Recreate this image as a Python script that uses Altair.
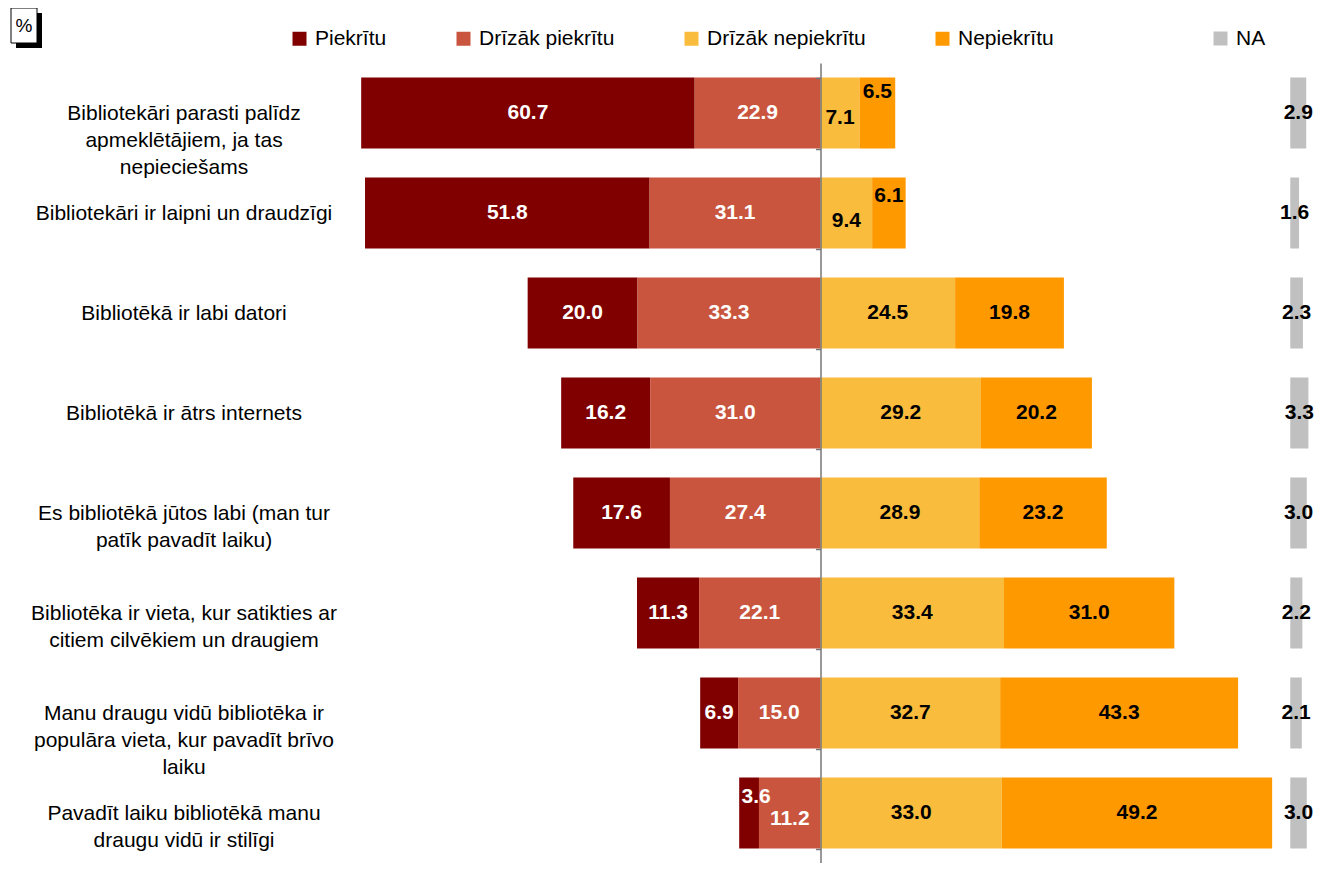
import altair as alt
import pandas as pd

# ---------------- data ----------------
categories = [
    "Bibliotekāri parasti palīdz|apmeklētājiem, ja tas|nepieciešams",
    "Bibliotekāri ir laipni un draudzīgi",
    "Bibliotēkā ir labi datori",
    "Bibliotēkā ir ātrs internets",
    "Es bibliotēkā jūtos labi (man tur|patīk pavadīt laiku)",
    "Bibliotēka ir vieta, kur satikties ar|citiem cilvēkiem un draugiem",
    "Manu draugu vidū bibliotēka ir|populāra vieta, kur pavadīt brīvo|laiku",
    "Pavadīt laiku bibliotēkā manu|draugu vidū ir stilīgi",
]
series_names = ["Piekrītu", "Drīzāk piekrītu", "Drīzāk nepiekrītu", "Nepiekrītu"]
na_name = "NA"

piekritu = [60.7, 51.8, 20.0, 16.2, 17.6, 11.3, 6.9, 3.6]
drizak_piekritu = [22.9, 31.1, 33.3, 31.0, 27.4, 22.1, 15.0, 11.2]
drizak_nepiekritu = [7.1, 9.4, 24.5, 29.2, 28.9, 33.4, 32.7, 33.0]
nepiekritu = [6.5, 6.1, 19.8, 20.2, 23.2, 31.0, 43.3, 49.2]
na_values = [2.9, 1.6, 2.3, 3.3, 3.0, 2.2, 2.1, 3.0]

# ---------------- styling / layout ----------------
colors = ["#800000", "#C9553E", "#F9BC3C", "#FF9900"]
na_color = "#C0C0C0"
FONT = "Liberation Sans"
FS = 21
X_DOMAIN = [-88, 90]
NA_START = 85.5          # where the NA column starts on the x scale
W, H = 978, 800
ZERO_PX = (0 - X_DOMAIN[0]) / (X_DOMAIN[1] - X_DOMAIN[0]) * W

# label nudges (row index, series) -> (dx, dy)
NUDGE = {
    (0, "Nepiekrītu"): (0, -21),
    (0, "Drīzāk nepiekrītu"): (0, 5),
    (1, "Nepiekrītu"): (0, -17),
    (1, "Drīzāk nepiekrītu"): (0, 8),
    (7, "Piekrītu"): (7, -16),
    (7, "Drīzāk piekrītu"): (0, 6),
}

# ---------------- build tables ----------------
bar_rows, na_rows, lab_rows = [], [], []
for i, cat in enumerate(categories):
    p, dp, dn, n = piekritu[i], drizak_piekritu[i], drizak_nepiekritu[i], nepiekritu[i]
    segs = [
        (series_names[0], p, -(p + dp), -dp),
        (series_names[1], dp, -dp, 0.0),
        (series_names[2], dn, 0.0, dn),
        (series_names[3], n, dn, dn + n),
    ]
    for s, v, a, b in segs:
        bar_rows.append({"cat": cat, "series": s, "x": a, "x2": b})
        dx, dy = NUDGE.get((i, s), (0, 0))
        col = "white" if s in series_names[:2] else "black"
        lab_rows.append({"cat": cat, "mid": (a + b) / 2, "label": f"{v:.1f}",
                         "dx": dx, "dy": dy, "col": col})
    na_rows.append({"cat": cat, "series": na_name, "x": NA_START, "x2": NA_START + na_values[i]})
    lab_rows.append({"cat": cat, "mid": NA_START + na_values[i] / 2,
                     "label": f"{na_values[i]:.1f}", "dx": 0, "dy": 0, "col": "black"})

bars_df = pd.DataFrame(bar_rows)
na_df = pd.DataFrame(na_rows)
lab_df = pd.DataFrame(lab_rows)

x_scale = alt.Scale(domain=X_DOMAIN, nice=False, zero=False)
y_enc = alt.Y(
    "cat:N",
    sort=categories,
    scale=alt.Scale(paddingInner=0.29, paddingOuter=0.145),
    axis=alt.Axis(
        title=None,
        labelExpr="split(datum.label, '|')",
        labelAlign="center",
        labelBaseline="middle",
        labelPadding=632,
        labelFontSize=FS,
        labelFont=FONT,
        labelColor="black",
        labelLineHeight=27,
        labelLimit=500,
        tickBand="extent",
        tickSize=5,
        tickColor="#777777",
        tickWidth=1.5,
        domainColor="#777777",
        domainWidth=1.5,
        offset=-ZERO_PX,
        zindex=1,
    ),
)

legend_common = dict(
    orient="none",
    direction="horizontal",
    title=None,
    symbolType="square",
    symbolSize=196,
    symbolStrokeWidth=0,
    labelFontSize=FS,
    labelFont=FONT,
    labelColor="black",
    labelOffset=5,
    labelLimit=400,
    columnPadding=66,
    padding=0,
    legendY=-35,
)

bars = alt.Chart(bars_df).mark_bar().encode(
    x=alt.X("x:Q", scale=x_scale, axis=None),
    x2="x2:Q",
    y=y_enc,
    color=alt.Color(
        "series:N",
        scale=alt.Scale(domain=series_names, range=colors),
        legend=alt.Legend(legendX=-48, **legend_common),
    ),
)

na_bars = alt.Chart(na_df).mark_bar().encode(
    x=alt.X("x:Q", scale=x_scale, axis=None),
    x2="x2:Q",
    y=y_enc,
    fill=alt.Fill(
        "series:N",
        scale=alt.Scale(domain=[na_name], range=[na_color]),
        legend=alt.Legend(legendX=873, **legend_common),
    ),
)

layers = [bars, na_bars]
for (dx, dy, col), sub in lab_df.groupby(["dx", "dy", "col"]):
    layers.append(
        alt.Chart(sub[["cat", "mid", "label"]]).mark_text(
            font=FONT, fontSize=FS, fontWeight="bold", color=col,
            align="center", baseline="middle", dx=int(dx), dy=int(dy),
        ).encode(
            x=alt.X("mid:Q", scale=x_scale, axis=None),
            y=y_enc,
            text="label:N",
        )
    )

# "%" box with shadow (decoration)
deco_df = pd.DataFrame({"k": [0]})
shadow = alt.Chart(deco_df).mark_rect(color="black").encode(
    x=alt.value(-321), x2=alt.value(-295), y=alt.value(-50), y2=alt.value(-15)
)
box = alt.Chart(deco_df).mark_rect(fill="white", stroke="black", strokeWidth=1).encode(
    x=alt.value(-326), x2=alt.value(-300), y=alt.value(-55), y2=alt.value(-20)
)
pct = alt.Chart(deco_df).mark_text(text="%", font=FONT, fontSize=19, color="black",
                                   align="center", baseline="middle").encode(
    x=alt.value(-313), y=alt.value(-37)
)
layers += [shadow, box, pct]

chart = alt.layer(*layers).resolve_scale(color="independent").properties(
    width=W,
    height=H,
    autosize=alt.AutoSizeParams(type="none"),
    padding={"left": 329, "top": 55, "right": 0, "bottom": 0},
    background="white",
).configure_view(stroke=None)

chart.save("out.html", embed_options={"renderer": "svg", "actions": False})
